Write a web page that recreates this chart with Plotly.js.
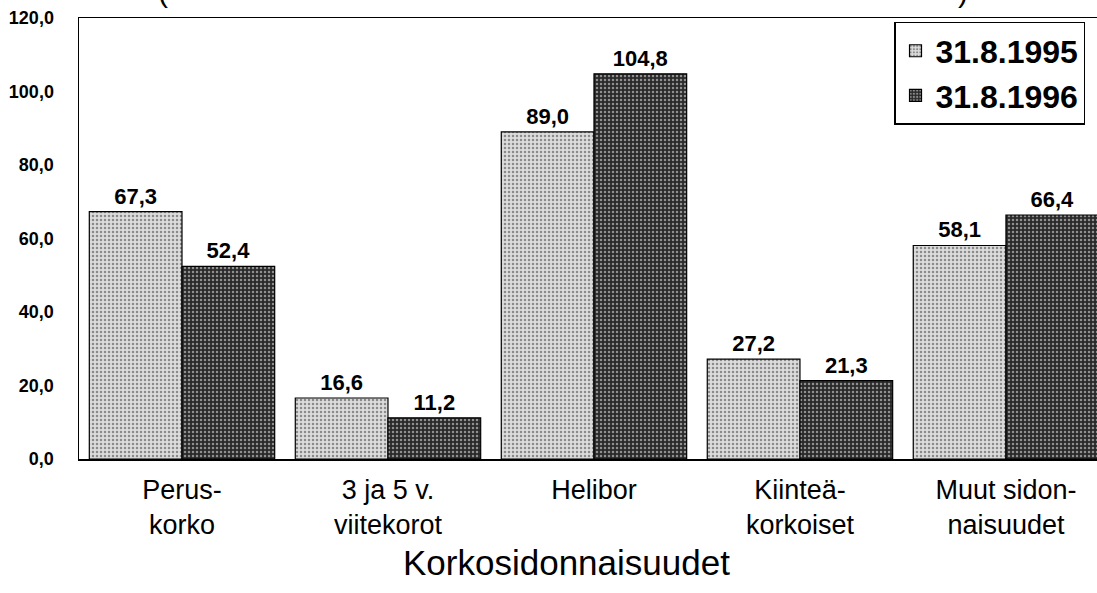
<!DOCTYPE html>
<html>
<head>
<meta charset="utf-8">
<script src="https://cdn.plot.ly/plotly-3.0.1.min.js"></script>
<style>html,body{margin:0;padding:0;background:#fff;}#chart{width:1097px;height:593px;}</style>
</head>
<body>
<div id="chart"></div>
<script>
const categories = ["Perus-<br>korko", "3 ja 5 v.<br>viitekorot", "Helibor", "Kiinteä-<br>korkoiset", "Muut sidon-<br>naisuudet"];
const series1995 = [67.3, 16.6, 89.0, 27.2, 58.1];
const series1996 = [52.4, 11.2, 104.8, 21.3, 66.4];
const seriesNames = ["31.8.1995", "31.8.1996"];
const yTicks = [0, 20, 40, 60, 80, 100, 120];
const xTitle = "Korkosidonnaisuudet";

const FONT = "Liberation Sans, Arial, Helvetica, sans-serif";
const idx = categories.map((c, i) => i);

const traces = [
  {
    type: "bar", name: seriesNames[0], x: idx, y: series1995,
    marker: {color: "#d2d2d2", line: {color: "#000", width: 1.2},
      pattern: {shape: ".", bgcolor: "#dcdcdc", fgcolor: "#8a8a8a", size: 4, solidity: 0.3}},
    texttemplate: "%{y:.1f}", textposition: "outside", cliponaxis: false,
    textfont: {family: FONT, size: 22, color: "#000", weight: "bold"}
  },
  {
    type: "bar", name: seriesNames[1], x: idx, y: series1996,
    marker: {color: "#333", line: {color: "#000", width: 1.2},
      pattern: {shape: ".", bgcolor: "#2a2a2a", fgcolor: "#909090", size: 4, solidity: 0.3}},
    texttemplate: "%{y:.1f}", textposition: "outside", cliponaxis: false,
    textfont: {family: FONT, size: 22, color: "#000", weight: "bold"}
  }
];

const layout = {
  width: 1097, height: 593,
  margin: {l: 79, r: 0, t: 18, b: 134, pad: 0},
  paper_bgcolor: "#fff", plot_bgcolor: "#fff",
  separators: ",.",
  font: {family: FONT, color: "#000"},
  barmode: "group", bargap: 0.1, bargroupgap: 0,
  showlegend: true,
  legend: {
    x: 0.8006, y: 0.991, xanchor: "left", yanchor: "top",
    bgcolor: "#fff", bordercolor: "#000", borderwidth: 1.5,
    font: {family: FONT, size: 32, color: "#000", weight: "bold"},
    itemwidth: 30, tracegroupgap: 0
  },
  xaxis: {
    range: [-0.5, 4.442],
    tickmode: "array", tickvals: idx, ticktext: categories,
    ticks: "", showgrid: false, zeroline: false,
    showline: true, linecolor: "#000", linewidth: 1.5, mirror: true,
    tickfont: {family: FONT, size: 27, color: "#000"},
    ticklabelstandoff: 6
  },
  yaxis: {
    range: [0, 120], tickmode: "array", tickvals: yTicks, tickformat: ".1f",
    ticks: "", showgrid: false, zeroline: false,
    showline: true, linecolor: "#000", linewidth: 1.5,
    tickfont: {family: FONT, size: 18, color: "#000", weight: "bold"},
    ticklabelstandoff: 20
  },
  annotations: [
    {text: xTitle, xref: "paper", yref: "paper", x: 0.479, y: -0.235,
     xanchor: "center", yanchor: "middle", showarrow: false,
     font: {family: FONT, size: 35, color: "#000"}},
    {text: "(", xref: "paper", yref: "paper", x: (163 - 79) / 1018, y: 1.0,
     xanchor: "center", yanchor: "bottom", yshift: 8, showarrow: false,
     font: {family: FONT, size: 30, color: "#000"}},
    {text: ")", xref: "paper", yref: "paper", x: (963 - 79) / 1018, y: 1.0,
     xanchor: "center", yanchor: "bottom", yshift: 8, showarrow: false,
     font: {family: FONT, size: 30, color: "#000"}}
  ]
};

Plotly.newPlot("chart", traces, layout, {displayModeBar: false, staticPlot: true});
</script>
</body>
</html>
